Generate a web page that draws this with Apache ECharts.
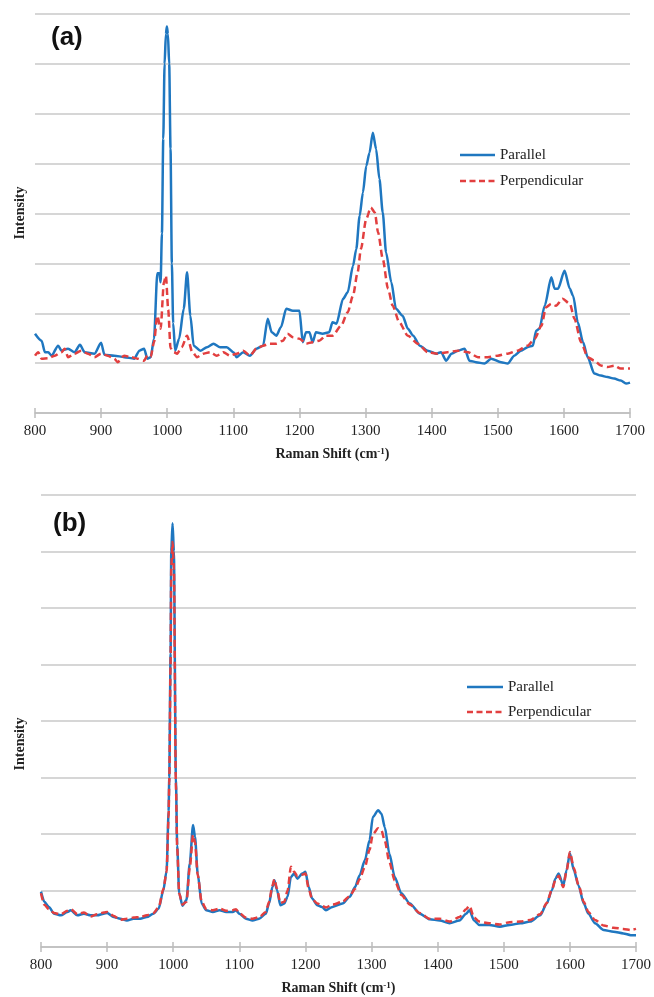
<!DOCTYPE html>
<html><head><meta charset="utf-8">
<script src="https://cdn.jsdelivr.net/npm/echarts@6/dist/echarts.min.js"></script>
<style>html,body{margin:0;padding:0;background:#fff}#c{width:654px;height:997px}</style>
</head><body><div id="c"></div>
<script>
// Panel (a)
const aParX = [800,810,815,820,825,835,840,850,860,868,875,890,900,905,920,935,950,958,965,970,975,980,985,988,990,992,994,996,998,999.5,1001,1003,1005,1007,1009,1012,1018,1025,1030,1035,1040,1050,1060,1070,1080,1090,1100,1105,1115,1125,1135,1145,1152,1158,1165,1172,1180,1190,1200,1205,1210,1215,1220,1225,1235,1245,1250,1256,1266,1273,1281,1286,1291,1296,1301,1306,1311,1316,1321,1326,1331,1339,1346,1356,1364,1372,1382,1394,1407,1414,1422,1430,1440,1450,1457,1467,1480,1490,1505,1515,1525,1535,1545,1553,1558,1563,1571,1581,1586,1591,1601,1609,1614,1621,1629,1636,1646,1656,1666,1676,1686,1694,1700];
const aParY = [0.59,0.45,0.22,0.22,0.15,0.35,0.25,0.29,0.22,0.37,0.22,0.19,0.41,0.17,0.15,0.12,0.09,0.25,0.29,0.09,0.12,0.49,1.8,1.8,1.62,2.6,4.5,6.0,6.6,6.75,6.6,6.0,4.3,2.0,0.8,0.25,0.49,1.09,1.82,0.95,0.35,0.25,0.32,0.39,0.32,0.32,0.22,0.12,0.22,0.15,0.29,0.35,0.89,0.62,0.55,0.72,1.09,1.05,1.05,0.42,0.62,0.62,0.42,0.62,0.59,0.62,0.82,0.79,1.29,1.42,1.95,2.29,2.95,3.42,3.95,4.22,4.62,4.29,3.69,3.02,2.22,1.62,1.09,0.95,0.69,0.55,0.35,0.25,0.19,0.22,0.05,0.19,0.25,0.29,0.05,0.02,-0.01,0.09,0.02,-0.01,0.15,0.25,0.32,0.35,0.65,0.69,1.15,1.72,1.49,1.49,1.85,1.49,1.35,0.82,0.42,0.12,-0.21,-0.25,-0.28,-0.31,-0.35,-0.41,-0.39];
const aPerpX = [800,805,810,820,830,840,845,850,860,870,880,890,900,910,920,925,935,945,955,965,970,975,980,985,990,995,998,1001.5,1005,1010,1015,1022,1030,1038,1045,1055,1065,1075,1085,1095,1105,1115,1125,1135,1145,1155,1165,1175,1182,1190,1200,1210,1220,1230,1240,1250,1263,1273,1281,1288,1293,1301,1308,1314,1319,1326,1334,1341,1351,1364,1379,1394,1409,1424,1440,1455,1470,1485,1500,1515,1530,1545,1556,1566,1573,1581,1588,1598,1609,1616,1626,1636,1646,1656,1666,1676,1686,1700];
const aPerpY = [0.15,0.22,0.09,0.1,0.15,0.22,0.29,0.12,0.19,0.25,0.19,0.12,0.19,0.15,0.09,0.02,0.15,0.12,0.09,0.05,0.15,0.12,0.42,0.95,0.69,1.62,1.75,1.07,0.3,0.22,0.19,0.32,0.55,0.22,0.12,0.19,0.22,0.15,0.22,0.15,0.19,0.25,0.15,0.29,0.35,0.39,0.39,0.45,0.59,0.52,0.49,0.39,0.42,0.45,0.55,0.55,0.75,1.02,1.35,1.82,2.29,2.89,3.12,3.02,2.62,2.09,1.49,1.15,0.82,0.55,0.39,0.22,0.19,0.22,0.25,0.22,0.12,0.12,0.15,0.19,0.25,0.35,0.49,0.75,1.12,1.19,1.15,1.29,1.19,0.89,0.42,0.12,0.05,-0.05,-0.08,-0.05,-0.11,-0.11];

// Panel (b)
const bX = [800,805,812,820,830,840,845,855,865,875,885,895,900,910,920,930,940,950,960,970,978,985,990,993,994,996,997,999,1001,1004,1006,1009,1014,1020,1025,1030,1033,1037,1043,1050,1060,1070,1080,1090,1095,1100,1110,1120,1130,1140,1145,1150,1153,1157,1162,1168,1173,1178,1183,1188,1195,1200,1205,1210,1218,1225,1231,1241,1256,1267,1275,1282,1290,1297,1302,1310,1315,1320,1327,1335,1345,1358,1373,1388,1403,1418,1433,1443,1448,1455,1463,1478,1494,1509,1525,1540,1555,1565,1573,1578,1583,1590,1595,1600,1606,1613,1621,1628,1638,1651,1666,1681,1692,1700];
const bPar = [-0.02,-0.2,-0.29,-0.41,-0.44,-0.38,-0.35,-0.44,-0.41,-0.44,-0.44,-0.41,-0.4,-0.47,-0.5,-0.53,-0.5,-0.5,-0.47,-0.41,-0.32,0.0,0.35,1.4,2.0,4.2,6.0,6.5,6.0,2.0,0.8,-0.05,-0.27,-0.17,0.48,1.16,0.95,0.3,-0.23,-0.35,-0.38,-0.35,-0.38,-0.38,-0.35,-0.41,-0.5,-0.53,-0.5,-0.41,-0.23,0.06,0.18,0.01,-0.26,-0.23,-0.11,0.24,0.3,0.21,0.3,0.33,0.06,-0.14,-0.26,-0.29,-0.35,-0.29,-0.23,-0.11,0.06,0.27,0.54,0.89,1.3,1.42,1.36,1.12,0.65,0.24,-0.05,-0.23,-0.41,-0.51,-0.53,-0.58,-0.53,-0.41,-0.35,-0.53,-0.61,-0.61,-0.64,-0.61,-0.58,-0.55,-0.44,-0.23,0.01,0.21,0.3,0.09,0.36,0.66,0.36,0.09,-0.23,-0.41,-0.58,-0.7,-0.73,-0.76,-0.79,-0.79];
const bPerp = [-0.05,-0.25,-0.33,-0.4,-0.42,-0.36,-0.33,-0.42,-0.39,-0.46,-0.42,-0.39,-0.38,-0.45,-0.52,-0.5,-0.48,-0.47,-0.44,-0.4,-0.3,0.02,0.33,1.3,1.9,4.0,5.7,6.17,5.7,1.9,0.75,-0.05,-0.25,-0.2,0.4,0.98,0.85,0.28,-0.2,-0.33,-0.35,-0.32,-0.36,-0.35,-0.33,-0.4,-0.48,-0.5,-0.47,-0.38,-0.2,0.08,0.2,0.03,-0.22,-0.2,0.0,0.42,0.33,0.25,0.28,0.3,0.03,-0.15,-0.23,-0.27,-0.3,-0.25,-0.2,-0.1,0.03,0.2,0.42,0.72,1.0,1.1,1.06,0.88,0.5,0.18,-0.08,-0.25,-0.4,-0.5,-0.5,-0.55,-0.47,-0.33,-0.27,-0.48,-0.55,-0.58,-0.6,-0.56,-0.55,-0.52,-0.42,-0.22,0.02,0.18,0.26,0.06,0.35,0.68,0.4,0.1,-0.2,-0.38,-0.52,-0.62,-0.66,-0.68,-0.7,-0.68];

const xTicks = [800,900,1000,1100,1200,1300,1400,1500,1600,1700];
const seriesNames = ['Parallel','Perpendicular'];
const axisTitle = 'Raman Shift (cm{sup|-1})';
const yTitle = 'Intensity';
const panelLabels = ['(a)','(b)'];

const BLUE = '#1f77c0', RED = '#e23f3f', GRID = '#c9c9c9';
const serif = '"Liberation Serif","Times New Roman",serif';
const zip = (xs, ys) => xs.map((x, i) => [x, ys[i]]);

function xAxes(gi) {
  return [{
    type: 'value', gridIndex: gi, min: xTicks[0], max: xTicks[xTicks.length-1], interval: 100,
    axisLine: {show: true, onZero: false, lineStyle: {color: '#bdbdbd', width: 1.5}},
    axisTick: {show: true, length: 5, lineStyle: {color: '#bdbdbd', width: 1.5}},
    splitLine: {show: false},
    axisLabel: {fontFamily: serif, fontSize: 15, color: '#222', margin: 11, formatter: v => String(v)},
    name: axisTitle, nameLocation: 'middle', nameGap: 34,
    nameTextStyle: {fontFamily: serif, fontSize: 14, fontWeight: 'bold', color: '#222',
      rich: {sup: {fontSize: 9, fontWeight: 'bold', fontFamily: serif, verticalAlign: 'top', padding: [0,0,6,0]}}}
  }, {
    type: 'value', gridIndex: gi, min: xTicks[0], max: xTicks[xTicks.length-1], interval: 100,
    position: 'bottom', offset: 0,
    axisLine: {show: false, onZero: false}, axisLabel: {show: false}, splitLine: {show: false},
    axisTick: {show: true, inside: true, length: 5, lineStyle: {color: '#bdbdbd', width: 1.5}}
  }];
}
function yAxis(gi) {
  return {type: 'value', gridIndex: gi, min: -1, max: 7, interval: 1,
    axisLine: {show: false}, axisTick: {show: false}, axisLabel: {show: false},
    splitLine: {show: true, lineStyle: {color: GRID, width: 1.5}}};
}
function line(name, data, xi, yi, color, dashed) {
  return {name, type: 'line', xAxisIndex: xi, yAxisIndex: yi, data,
    symbol: 'none', showSymbol: false, smooth: 0.25, smoothMonotone: 'x', animation: false,
    itemStyle: {color},
    lineStyle: {color, width: 2.5, type: dashed ? [7, 4] : 'solid'}, z: dashed ? 3 : 2};
}
function legendGraphic(x0, x1, y0, y1) {
  const tx = x1 + 5;
  const f = '15px ' + serif;
  return [
    {type: 'line', shape: {x1: x0, y1: y0, x2: x1, y2: y0}, style: {stroke: BLUE, lineWidth: 2.5}},
    {type: 'line', shape: {x1: x0, y1: y1, x2: x1, y2: y1}, style: {stroke: RED, lineWidth: 2.5, lineDash: [6, 3.5]}},
    {type: 'text', x: tx, y: y0, style: {text: seriesNames[0], font: f, fill: '#222', verticalAlign: 'middle'}},
    {type: 'text', x: tx, y: y1, style: {text: seriesNames[1], font: f, fill: '#222', verticalAlign: 'middle'}}
  ];
}

const chart = echarts.init(document.getElementById('c'), null, {renderer: 'canvas'});
chart.setOption({
  animation: false,
  backgroundColor: '#fff',
  grid: [
    {left: 35, right: 24, top: 14, height: 399},
    {left: 41, right: 18, top: 495, height: 452}
  ],
  xAxis: [...xAxes(0), ...xAxes(1)],
  yAxis: [yAxis(0), yAxis(1)],
  graphic: [
    {type: 'text', left: 51, top: 25, style: {text: panelLabels[0], font: 'bold 26px "Liberation Sans", Arial, sans-serif', fill: '#111'}},
    {type: 'text', left: 53, top: 511, style: {text: panelLabels[1], font: 'bold 26px "Liberation Sans", Arial, sans-serif', fill: '#111'}},
    {type: 'text', x: 20, y: 213, rotation: Math.PI/2, style: {text: yTitle, font: 'bold 14px ' + serif, fill: '#222', align: 'center', verticalAlign: 'middle'}},
    {type: 'text', x: 20, y: 744, rotation: Math.PI/2, style: {text: yTitle, font: 'bold 14px ' + serif, fill: '#222', align: 'center', verticalAlign: 'middle'}},
    ...legendGraphic(460, 495, 155, 181),
    ...legendGraphic(467, 503, 687, 712)
  ],
  series: [
    line(seriesNames[0], zip(aParX, aParY), 0, 0, BLUE, false),
    line(seriesNames[1], zip(aPerpX, aPerpY), 0, 0, RED, true),
    line(seriesNames[0], zip(bX, bPar), 2, 1, BLUE, false),
    line(seriesNames[1], zip(bX, bPerp), 2, 1, RED, true)
  ]
});
</script>
</body></html>
